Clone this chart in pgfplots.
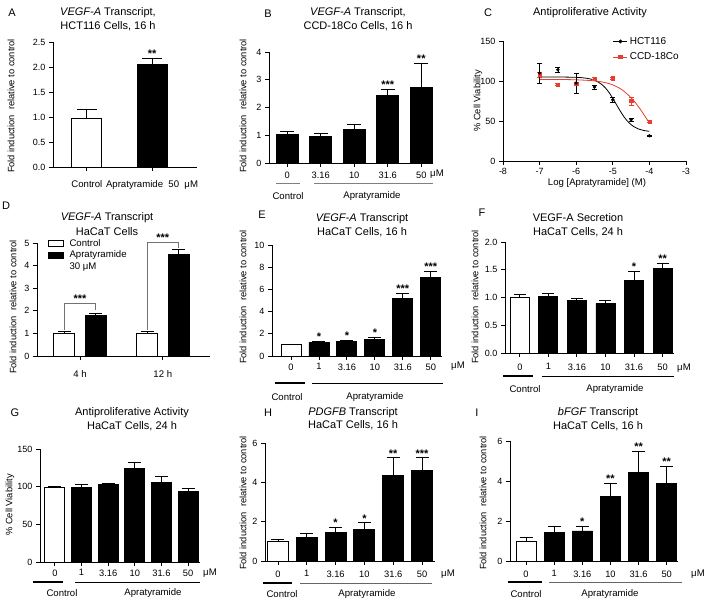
\documentclass[border=0pt]{standalone}
\usepackage{fontspec}
\setmainfont{Liberation Sans}
\usepackage{pgfplots}
\pgfplotsset{compat=1.18}
\definecolor{gpred}{RGB}{232,62,50}
\newcommand{\fs}[1]{\fontsize{#1}{#1}\selectfont}
% text helpers, picture units are pixels of the reference (y from top)
\newcommand{\ttl}[3]{\node[font=\fs{11}] at (#1,605-#2) {#3};}
\newcommand{\lbl}[3]{\node[font=\fs{9.6}] at (#1,605-#2) {#3};}
\newcommand{\ylab}[3]{\node[font=\fs{9.3},rotate=90] at (#1,605-#2) {#3};}

\pgfplotsset{
  gp/.style={
    scale only axis, anchor=south west, clip=false,
    axis x line*=bottom, axis y line*=left,
    axis line style={-, line width=0.9pt, black},
    every tick/.style={line width=0.9pt, black},
    tick align=outside, major tick length=4pt,
    ticklabel style={font=\fs{9}},
    /pgf/number format/assume math mode=true,
    ymin=0,
  },
  gpsix/.style={gp, xtick={0,...,5}, xticklabels={0,1,3.16,10,31.6,50},
    xticklabel style={font=\fs{9.3}}},
  gpbar/.style 2 args={ybar, bar shift=0pt, bar width=#1, draw=black, line width=0.9pt,
    error bars/y dir=plus, error bars/y explicit,
    error bars/error bar style={line width=0.9pt, black, solid},
    error bars/error mark options={rotate=90, mark size=#2, line width=0.9pt, black}},
}
\tikzset{sig/.style={font=\fs{11}\bfseries, anchor=south, inner sep=0pt, yshift=0.5pt}}

\begin{document}
\begin{tikzpicture}[x=1pt,y=1pt]
\useasboundingbox (0,0) rectangle (713,605);

%% ---------- A
\begin{axis}[gp, at={(53pt,438pt)}, width=144pt, height=125pt,
  xmin=-0.52, xmax=1.69, ymax=2.5, ytick={0,0.5,1,1.5,2,2.5},
  yticklabel style={/pgf/number format/fixed, /pgf/number format/fixed zerofill, /pgf/number format/precision=1},
  xtick={0,1}, xticklabels={Control,{Apratyramide\ \ 50\ \ μM}},
  xticklabel style={font=\fs{9.6}, yshift=-6pt}]
\addplot[gpbar={30pt}{10pt}, fill=white] coordinates {(0,0.98) +- (0,0.17)};
\addplot[gpbar={30pt}{10pt}, fill=black] coordinates {(1,2.05) +- (0,0.13)};
\node[sig] at (axis cs:1,2.18) {**};
\end{axis}

%% ---------- B
\begin{axis}[gp, at={(269pt,442pt)}, width=164pt, height=111pt,
  xmin=-0.54, xmax=4.35, ymax=4, ytick={0,...,4},
  xtick={0,...,4}, xticklabels={0,3.16,10,31.6,50}, xticklabel style={font=\fs{9.3}, yshift=-1pt}]
\addplot[gpbar={22pt}{7pt}, fill=black] coordinates {
  (0,1.02) +- (0,0.13) (1,0.94) +- (0,0.11) (2,1.20) +- (0,0.19)
  (3,2.42) +- (0,0.23) (4,2.72) +- (0,0.86)};
\node[sig] at (axis cs:3,2.65) {***};
\node[sig] at (axis cs:4,3.58) {**};
\end{axis}

%% ---------- C
\begin{axis}[gp, at={(503pt,444pt)}, width=183pt, height=120pt,
  xmin=-8, xmax=-3, ymax=150, xtick={-8,...,-3}, ytick={0,50,100,150},
  legend style={at={(0.60,1.05)}, anchor=north west, draw=none, fill=none,
    font=\fs{10}, row sep=3pt, inner sep=0pt, legend cell align=left},
  legend image code/.code={\draw[mark repeat=2, mark phase=2, #1]
    plot coordinates {(0pt,0pt) (7pt,0pt) (14pt,0pt)};}]
\addplot[black, line width=0.8pt, smooth, no marks, forget plot] coordinates {
  (-7,105)(-6.5,105)(-6,104.6)(-5.8,103.9)(-5.6,102.4)(-5.4,98.7)(-5.3,95.6)
  (-5.2,91.2)(-5.1,85.4)(-5,78.3)(-4.9,70.5)(-4.8,62.7)(-4.7,55.6)(-4.6,49.9)
  (-4.5,45.4)(-4.4,42.3)(-4.3,40.1)(-4.15,38.1)(-4,37.1)};
\addplot[gpred, line width=0.8pt, smooth, no marks, forget plot] coordinates {
  (-7,102)(-6.5,101.9)(-6,101.5)(-5.5,100.2)(-5.25,98.4)(-5,95.1)(-4.75,89.1)
  (-4.5,79.2)(-4.4,73.9)(-4.25,64.8)(-4.1,54.5)(-4,47.5)};
\addplot[gpred, only marks, mark=square*, mark size=1.6pt, forget plot,
  error bars/y dir=both, error bars/y explicit,
  error bars/error bar style={line width=0.7pt},
  error bars/error mark options={rotate=90, mark size=2.5pt, line width=0.7pt}] coordinates {
  (-7,108) +- (0,3) (-6.5,95.5) +- (0,1.5) (-6,96.5) +- (0,2) (-5.5,103) +- (0,1.5)
  (-5,103.5) +- (0,1) (-4.5,75) +- (0,5) (-4,49.5) +- (0,1)};
\addplot[black, only marks, mark=*, mark size=1.5pt, forget plot,
  error bars/y dir=both, error bars/y explicit,
  error bars/error bar style={line width=0.7pt},
  error bars/error mark options={rotate=90, mark size=2.5pt, line width=0.7pt}] coordinates {
  (-7,110) +- (0,12.5) (-6.5,114) +- (0,3) (-6,97.5) +- (0,12.5) (-5.5,92.5) +- (0,2.5)
  (-5,76.5) +- (0,3) (-4.5,51.5) +- (0,1.5) (-4,31.5) +- (0,1)};
\addlegendimage{black, line width=0.8pt, mark=*, mark size=1.5pt}
\addlegendentry{HCT116}
\addlegendimage{gpred, line width=0.8pt, mark=square*, mark size=1.6pt}
\addlegendentry{CCD-18Co}
\end{axis}

%% ---------- D
\begin{axis}[gp, at={(37pt,249pt)}, width=173pt, height=113pt,
  xmin=-0.52, xmax=1.57, ymax=5, ytick={0,...,5},
  xtick={0,1}, xticklabels={4 h,12 h}, xticklabel style={font=\fs{9.6}, yshift=-7pt}]
\addplot[gpbar={21pt}{6.5pt}, fill=white] coordinates {
  (-0.19,1.0) +- (0,0.08) (0.81,1.0) +- (0,0.08)};
\addplot[gpbar={21pt}{6.5pt}, fill=black] coordinates {
  (0.19,1.78) +- (0,0.09) (1.19,4.48) +- (0,0.25)};
\draw[black!55, line width=0.7pt] (axis cs:-0.19,1.15) -- (axis cs:-0.19,2.35)
  -- (axis cs:0.19,2.35) -- (axis cs:0.19,2.05);
\draw[black!55, line width=0.7pt] (axis cs:0.81,1.15) -- (axis cs:0.81,5.04)
  -- (axis cs:1.19,5.04) -- (axis cs:1.19,4.8);
\node[sig] at (axis cs:0,2.35) {***};
\node[sig] at (axis cs:1,5.04) {***};
\end{axis}

%% ---------- E
\begin{axis}[gpsix, at={(272pt,249pt)}, width=170pt, height=111pt,
  xmin=-0.68, xmax=5.4, ymax=10, ytick={0,2,...,10}]
\addplot[gpbar={20pt}{6.5pt}, fill=white] coordinates {(0,1.0) +- (0,0.05)};
\addplot[gpbar={20pt}{6.5pt}, fill=black] coordinates {
  (1,1.24) +- (0,0.05) (2,1.32) +- (0,0.06) (3,1.48) +- (0,0.18)
  (4,5.2) +- (0,0.45) (5,7.05) +- (0,0.6)};
\node[sig] at (axis cs:1,1.29) {*};
\node[sig] at (axis cs:2,1.38) {*};
\node[sig] at (axis cs:3,1.66) {*};
\node[sig] at (axis cs:4,5.65) {***};
\node[sig] at (axis cs:5,7.65) {***};
\end{axis}

%% ---------- F
\begin{axis}[gpsix, at={(505pt,252pt)}, width=169pt, height=111pt,
  xmin=-0.52, xmax=5.4, ymax=2, ytick={0,0.5,1,1.5,2},
  xticklabel style={yshift=-3pt},
  yticklabel style={/pgf/number format/fixed, /pgf/number format/fixed zerofill, /pgf/number format/precision=1}]
\addplot[gpbar={19pt}{6pt}, fill=white] coordinates {(0,1.0) +- (0,0.05)};
\addplot[gpbar={19pt}{6pt}, fill=black] coordinates {
  (1,1.01) +- (0,0.06) (2,0.95) +- (0,0.03) (3,0.89) +- (0,0.05)
  (4,1.31) +- (0,0.16) (5,1.52) +- (0,0.10)};
\node[sig] at (axis cs:4,1.47) {*};
\node[sig] at (axis cs:5,1.62) {**};
\end{axis}

%% ---------- G
\begin{axis}[gpsix, at={(40pt,43pt)}, width=160pt, height=113pt,
  xmin=-0.56, xmax=5.45, ymax=150, ytick={0,50,100,150}]
\addplot[gpbar={20pt}{6.5pt}, fill=white] coordinates {(0,99.5) +- (0,1.3)};
\addplot[gpbar={20pt}{6.5pt}, fill=black] coordinates {
  (1,99.5) +- (0,4) (2,102.5) +- (0,1.3) (3,124) +- (0,7.5)
  (4,105.5) +- (0,8.5) (5,94) +- (0,4)};
\end{axis}

%% ---------- H
\begin{axis}[gpsix, at={(265pt,44pt)}, width=170pt, height=118pt,
  xmin=-0.45, xmax=5.45, ymax=6, ytick={0,2,4,6}, xticklabel style={yshift=-2pt}]
\addplot[gpbar={21pt}{6.5pt}, fill=white] coordinates {(0,1.01) +- (0,0.09)};
\addplot[gpbar={21pt}{6.5pt}, fill=black] coordinates {
  (1,1.18) +- (0,0.22) (2,1.45) +- (0,0.26) (3,1.62) +- (0,0.32)
  (4,4.36) +- (0,0.88) (5,4.61) +- (0,0.63)};
\node[sig] at (axis cs:2,1.71) {*};
\node[sig] at (axis cs:3,1.94) {*};
\node[sig] at (axis cs:4,5.24) {**};
\node[sig] at (axis cs:5,5.24) {***};
\end{axis}

%% ---------- I
\begin{axis}[gpsix, at={(510pt,44pt)}, width=168pt, height=120pt,
  xmin=-0.57, xmax=5.4, ymax=6, ytick={0,2,4,6}, xticklabel style={yshift=-2pt}]
\addplot[gpbar={20pt}{6.5pt}, fill=white] coordinates {(0,0.97) +- (0,0.19)};
\addplot[gpbar={20pt}{6.5pt}, fill=black] coordinates {
  (1,1.41) +- (0,0.34) (2,1.5) +- (0,0.25) (3,3.21) +- (0,0.69)
  (4,4.42) +- (0,1.06) (5,3.86) +- (0,0.89)};
\node[sig] at (axis cs:2,1.75) {*};
\node[sig] at (axis cs:3,3.9) {**};
\node[sig] at (axis cs:4,5.48) {**};
\node[sig] at (axis cs:5,4.75) {**};
\end{axis}

%% ---------- titles and panel letters
\ttl{12}{13}{A}
\ttl{108}{13}{\textit{VEGF-A} Transcript,}
\ttl{108}{26}{HCT116 Cells, 16 h}
\ttl{268}{14}{B}
\ttl{358}{13}{\textit{VEGF-A} Transcript,}
\ttl{358}{26}{CCD-18Co Cells, 16 h}
\ttl{488}{13}{C}
\ttl{590}{13}{Antiproliferative Activity}
\ttl{6}{206}{D}
\ttl{107}{218}{\textit{VEGF-A} Transcript}
\ttl{107}{232}{HaCaT Cells}
\ttl{262}{215}{E}
\ttl{362}{219}{\textit{VEGF-A} Transcript}
\ttl{362}{232}{HaCaT Cells, 16 h}
\ttl{482}{213}{F}
\ttl{578}{218}{VEGF-A Secretion}
\ttl{578}{232}{HaCaT Cells, 24 h}
\ttl{15}{413}{G}
\ttl{132}{413}{Antiproliferative Activity}
\ttl{132}{426}{HaCaT Cells, 24 h}
\ttl{268}{413}{H}
\ttl{353}{413}{\textit{PDGFB} Transcript}
\ttl{353}{425}{HaCaT Cells, 16 h}
\ttl{477}{413}{I}
\ttl{598}{413}{\textit{bFGF} Transcript}
\ttl{598}{426}{HaCaT Cells, 16 h}

%% ---------- y labels
\ylab{11}{106}{Fold induction\ \ relative to control}
\ylab{243}{106}{Fold induction\ \ relative to control}
\ylab{478}{101}{\% Cell Viability}
\ylab{13}{307}{Fold induction\ \ relative to control}
\ylab{243}{297}{Fold induction\ \ relative to control}
\ylab{475}{297}{Fold induction\ \ relative to control}
\ylab{10}{505}{\% Cell Viability}
\ylab{243}{503}{Fold induction\ \ relative to control}
\ylab{483}{503}{Fold induction\ \ relative to control}
\node[font=\fs{9.6}] at (597,605-183) {Log [Apratyramide] (M)};

%% ---------- D legend
\draw[line width=0.8pt, fill=white] (48,605-240) rectangle (63,605-246);
\draw[line width=0.8pt, fill=black] (48,605-252) rectangle (63,605-258);
\node[font=\fs{9.6}, anchor=west] at (66,605-243) {Control};
\node[font=\fs{9.6}, anchor=west] at (66,605-255) {Apratyramide};
\node[font=\fs{9.6}, anchor=west] at (66,605-267) {30\ μM};

%% ---------- group lines and labels
% B
\draw[black!50, line width=0.7pt] (276,605-183) -- (300,605-183);
\draw[black!50, line width=0.7pt] (314,605-183) -- (433,605-183);
\lbl{288}{196}{Control} \lbl{372}{196}{Apratyramide} \lbl{437}{174}{μM}
% E
\draw[line width=1.2pt] (275,605-383) -- (305,605-383);
\draw[line width=0.7pt] (312,605-383) -- (443,605-383);
\lbl{287}{397}{Control} \lbl{375}{397}{Apratyramide} \lbl{458}{366}{μM}
% F
\draw[line width=1.2pt] (503,605-376) -- (533,605-376);
\draw[line width=0.7pt] (542,605-376) -- (674,605-376);
\lbl{525}{389}{Control} \lbl{615}{389}{Apratyramide} \lbl{684}{368}{μM}
% G
\draw[line width=1.2pt] (33,605-582) -- (63,605-582);
\draw[line width=0.7pt] (75,605-582) -- (200,605-582);
\lbl{62}{593}{Control} \lbl{153}{593}{Apratyramide} \lbl{210}{573}{μM}
% H
\draw[line width=1.2pt] (263,605-583) -- (292,605-583);
\draw[black!60, line width=0.7pt] (300,605-583) -- (432,605-583);
\lbl{282}{594}{Control} \lbl{367}{594}{Apratyramide} \lbl{448}{574}{μM}
% I
\draw[line width=1.2pt] (508,605-582) -- (542,605-582);
\draw[black!60, line width=0.7pt] (549,605-582) -- (682,605-582);
\lbl{526}{594}{Control} \lbl{610}{594}{Apratyramide} \lbl{698}{574}{μM}
\end{tikzpicture}
\end{document}
